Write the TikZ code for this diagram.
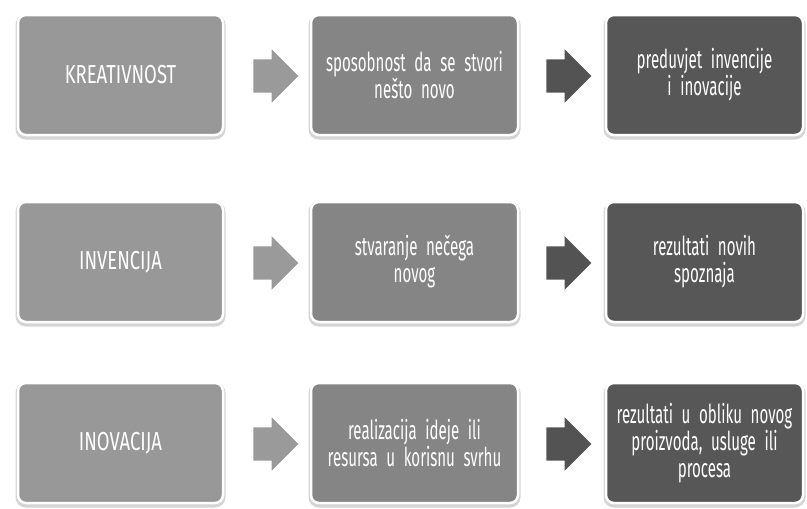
\documentclass[tikz,border=0pt]{standalone}
\usepackage{fontspec}
\setmainfont{Fira Sans}[FakeStretch=0.58, WordSpace=0.8]
\newfontfamily\capsfont{Fira Sans}[FakeStretch=0.71]
\usetikzlibrary{shapes.arrows}
\hyphenpenalty=10000
\exhyphenpenalty=10000
\definecolor{lightbox}{HTML}{989898}
\definecolor{midbox}{HTML}{858585}
\definecolor{darkbox}{HTML}{575757}
\definecolor{lightarrow}{HTML}{9A9A9A}
\definecolor{darkarrow}{HTML}{535353}
\definecolor{shadowgray}{HTML}{D4D4D4}
\tikzset{
  boxbase/.style={rectangle, rounded corners=8pt, draw=white, line width=2.5pt,
    text=white, align=center, minimum height=120pt, inner sep=2pt, text width=200pt,
    font=\fontsize{26}{27}\selectfont,
    preaction={fill=shadowgray, draw=shadowgray, line width=5pt, transform canvas={yshift=-2pt}}},
  leftbox/.style={boxbase, fill=lightbox, minimum width=205pt},
  midbox/.style={boxbase, fill=midbox, minimum width=207pt},
  rightbox/.style={boxbase, fill=darkbox, minimum width=197pt, text width=193pt},
  arrowbase/.style={single arrow, inner xsep=0pt, inner ysep=16.5pt, minimum height=45pt,
    single arrow head extend=10pt, single arrow head indent=0pt, draw=none},
  lightarr/.style={arrowbase, fill=lightarrow},
  darkarr/.style={arrowbase, fill=darkarrow}
}
\begin{document}
\begin{tikzpicture}[x=1pt,y=-1pt]
\useasboundingbox (0,0) rectangle (807,509);
% row 1
\node[leftbox]  (k1) at (120.5,75) {\capsfont KREATIVNOST};
\node[midbox]   (k2) at (414.5,75) {sposobnost da se stvori\\nešto novo};
\node[rightbox] (k3) at (704.5,75) {preduvjet invencije\\i inovacije};
\node[lightarr] (ka1) at (267.5,76) {};
\node[darkarr]  (ka2) at (560.5,76) {};
% row 2
\node[leftbox]  (i1) at (120.5,262) {\capsfont INVENCIJA};
\node[midbox]   (i2) at (414.5,262) {stvaranje nečega\\novog};
\node[rightbox] (i3) at (704.5,262) {rezultati novih\\spoznaja};
\node[lightarr] (ia1) at (267.5,263) {};
\node[darkarr]  (ia2) at (560.5,263) {};
% row 3
\node[leftbox]  (n1) at (120.5,443) {\capsfont INOVACIJA};
\node[midbox]   (n2) at (414.5,443) {realizacija ideje ili\\resursa u korisnu svrhu};
\node[rightbox] (n3) at (704.5,443) {rezultati u obliku novog\\proizvoda, usluge ili\\procesa};
\node[lightarr] (na1) at (267.5,444) {};
\node[darkarr]  (na2) at (560.5,444) {};
\end{tikzpicture}
\end{document}
